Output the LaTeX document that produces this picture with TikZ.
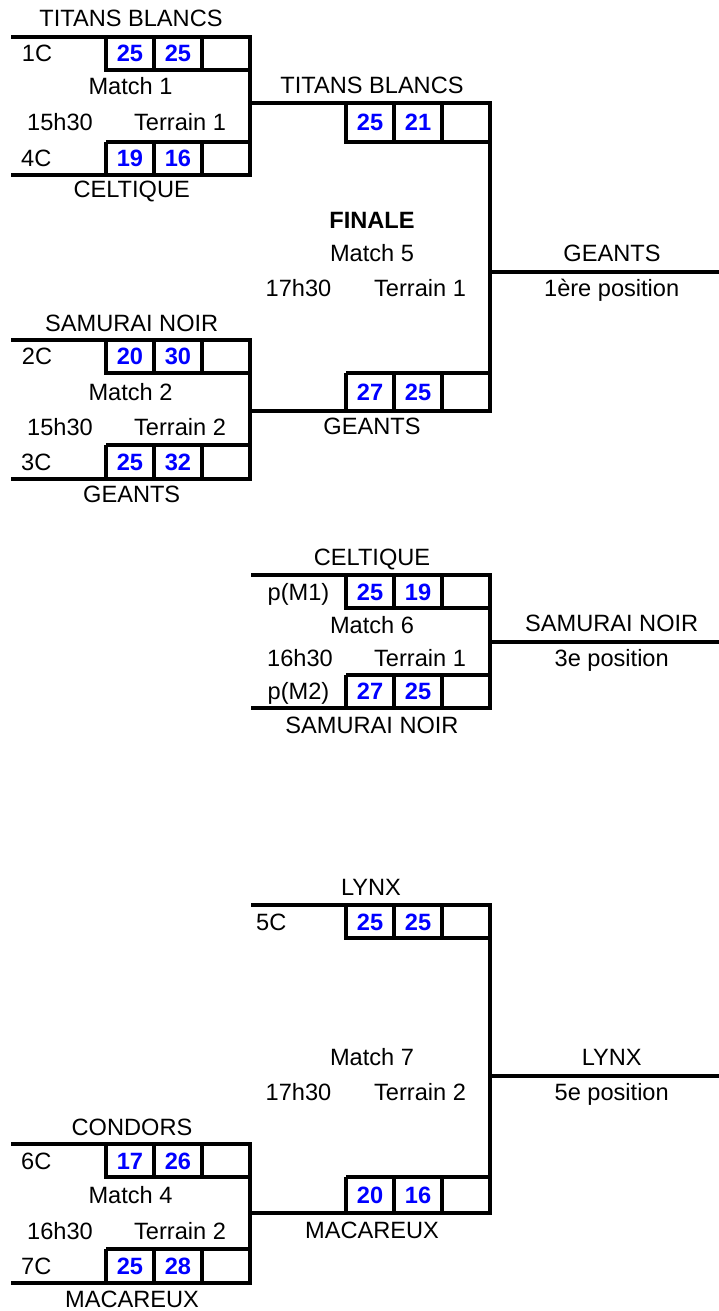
\documentclass[tikz,border=0pt]{standalone}
\usepackage{fontspec}
\setmainfont{Liberation Sans}
\newcommand\fs{\fontsize{23.6}{28}\selectfont}
\newcommand\mylblock[5]{%
 \draw[ln] (11,#1) -- (252,#1);
 \draw[ln] (106,#1) -- (106,#2) -- (250,#2);
 \draw[ln] (154,#1) -- (154,#2) (202,#1) -- (202,#2);
 \draw[ln] (250,#1) -- (250,#5);
 \draw[ln] (106,#4) -- (250,#4);
 \draw[ln] (106,#4) -- (106,#5) (154,#4) -- (154,#5) (202,#4) -- (202,#5);
 \draw[ln] (11,#5) -- (252,#5);
 \draw[ln] (250,#3) -- (492,#3);}
\newcommand\myrblock[5]{%
 \draw[ln] (346,#1) -- (346,#2) -- (490,#2);
 \draw[ln] (394,#1) -- (394,#2) (442,#1) -- (442,#2);
 \draw[ln] (490,#1) -- (490,#4);
 \draw[ln] (346,#3) -- (490,#3);
 \draw[ln] (346,#3) -- (346,#4) (394,#3) -- (394,#4) (442,#3) -- (442,#4);
 \draw[ln] (490,#5) -- (719,#5);}
\tikzset{
 ln/.style={line width=4.2pt, line join=miter},
 lbl/.style={inner sep=0pt, anchor=base, font=\fs},
 lft/.style={lbl, anchor=base west},
 sc/.style={lbl, font=\fs\bfseries, text=blue},
 bld/.style={lbl, font=\fs\bfseries}
}
\begin{document}
\begin{tikzpicture}[x=1pt,y=-1pt]
\useasboundingbox (0,0) rectangle (719,1311);
% ---------- lines ----------
\mylblock{37}{70}{103.3}{141.7}{175}
\mylblock{340}{372.7}{411}{445}{479}
\mylblock{1144}{1176.7}{1213.3}{1249.3}{1283.3}
\myrblock{103.3}{141.7}{372.7}{411}{271.7}
\draw[ln] (251,575) -- (492,575);
\draw[ln] (251,707.7) -- (492,707.7);
\myrblock{575}{608.3}{675}{707.7}{641.7}
\draw[ln] (251,905) -- (492,905);
\myrblock{905}{938.3}{1177.3}{1213.3}{1076}
% ---------- Match 1 ----------
\node[lbl] (m1a) at (131,26.7) {TITANS BLANCS};
\node[lft] (m1s1) at (21.7,61.8) {1C};
\node[sc] (m1a1) at (130,61.8) {25};
\node[sc] (m1a2) at (178,61.8) {25};
\node[lbl] (m1n) at (130.5,95) {Match 1};
\node[lbl] (m1t) at (60,130.5) {15h30};
\node[lbl] (m1f) at (180,130.5) {Terrain 1};
\node[lft] (m1s2) at (21,166.7) {4C};
\node[sc] (m1b1) at (130,166.7) {19};
\node[sc] (m1b2) at (178,166.7) {16};
\node[lbl] (m1b) at (131.7,197.3) {CELTIQUE};
% ---------- Match 2 ----------
\node[lbl] (m2a) at (131.7,331.7) {SAMURAI NOIR};
\node[lft] (m2s1) at (21.7,364.7) {2C};
\node[sc] (m2a1) at (130,364.7) {20};
\node[sc] (m2a2) at (178,364.7) {30};
\node[lbl] (m2n) at (130.5,400.2) {Match 2};
\node[lbl] (m2t) at (60,435.5) {15h30};
\node[lbl] (m2f) at (180,435.5) {Terrain 2};
\node[lft] (m2s2) at (21,470.3) {3C};
\node[sc] (m2b1) at (130,470.3) {25};
\node[sc] (m2b2) at (178,470.3) {32};
\node[lbl] (m2b) at (131.7,502.3) {GEANTS};
% ---------- Match 5 ----------
\node[lbl] (m5a) at (372,93.3) {TITANS BLANCS};
\node[sc] (m5a1) at (370,130.8) {25};
\node[sc] (m5a2) at (418,130.8) {21};
\node[bld] (m5h) at (372,228.3) {FINALE};
\node[lbl] (m5n) at (372,261.7) {Match 5};
\node[lbl] (m5t) at (298.5,296.7) {17h30};
\node[lbl] (m5f) at (420,296.7) {Terrain 1};
\node[sc] (m5b1) at (370,400.2) {27};
\node[sc] (m5b2) at (418,400.2) {25};
\node[lbl] (m5b) at (372,434.5) {GEANTS};
\node[lbl] (m5w) at (612,261.7) {GEANTS};
\node[lbl] (m5p) at (611.7,296.7) {1ère position};
% ---------- Match 6 ----------
\node[lbl] (m6a) at (372,565.7) {CELTIQUE};
\node[lbl] (m6s1) at (298.5,600) {p(M1)};
\node[sc] (m6a1) at (370,600) {25};
\node[sc] (m6a2) at (418,600) {19};
\node[lbl] (m6n) at (372,633.3) {Match 6};
\node[lbl] (m6t) at (300,666.7) {16h30};
\node[lbl] (m6f) at (420,666.7) {Terrain 1};
\node[lbl] (m6s2) at (298.5,699.7) {p(M2)};
\node[sc] (m6b1) at (370,699.7) {27};
\node[sc] (m6b2) at (418,699.7) {25};
\node[lbl] (m6b) at (372,733) {SAMURAI NOIR};
\node[lbl] (m6w) at (611.7,631.7) {SAMURAI NOIR};
\node[lbl] (m6p) at (611.7,666) {3e position};
% ---------- Match 7 ----------
\node[lbl] (m7a) at (371,895) {LYNX};
\node[lft] (m7s1) at (256,930) {5C};
\node[sc] (m7a1) at (370,930) {25};
\node[sc] (m7a2) at (418,930) {25};
\node[lbl] (m7n) at (372,1065) {Match 7};
\node[lbl] (m7t) at (298.5,1100.7) {17h30};
\node[lbl] (m7f) at (420,1100.7) {Terrain 2};
\node[sc] (m7b1) at (370,1203.6) {20};
\node[sc] (m7b2) at (418,1203.6) {16};
\node[lbl] (m7b) at (372,1238) {MACAREUX};
\node[lbl] (m7w) at (611.7,1065) {LYNX};
\node[lbl] (m7p) at (611.7,1100.7) {5e position};
% ---------- Match 4 ----------
\node[lbl] (m4a) at (132,1135) {CONDORS};
\node[lft] (m4s1) at (21,1169.5) {6C};
\node[sc] (m4a1) at (130,1169.5) {17};
\node[sc] (m4a2) at (178,1169.5) {26};
\node[lbl] (m4n) at (130.5,1203.3) {Match 4};
\node[lbl] (m4t) at (60,1239) {16h30};
\node[lbl] (m4f) at (180,1239) {Terrain 2};
\node[lft] (m4s2) at (21,1274.5) {7C};
\node[sc] (m4b1) at (130,1274.5) {25};
\node[sc] (m4b2) at (178,1274.5) {28};
\node[lbl] (m4b) at (132,1307) {MACAREUX};
\end{tikzpicture}
\end{document}
